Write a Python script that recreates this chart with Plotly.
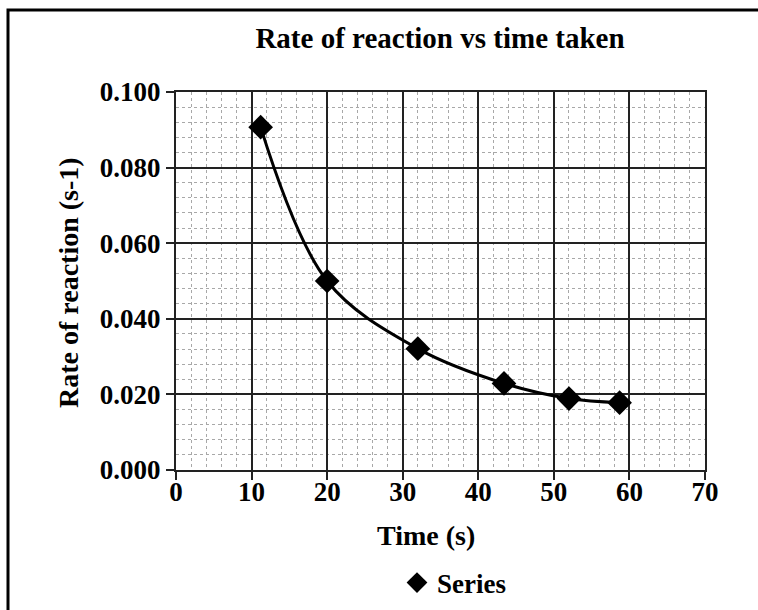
import plotly.graph_objects as go

# Measured reaction rates against time taken
time_s = [11.2, 20.0, 32.0, 43.4, 52.0, 58.7]
rate = [0.0907, 0.0500, 0.0321, 0.0229, 0.0189, 0.0178]

x_ticks = [0, 10, 20, 30, 40, 50, 60, 70]
y_ticks = [0.000, 0.020, 0.040, 0.060, 0.080, 0.100]

FONT = "Liberation Serif, Times New Roman, serif"

fig = go.Figure()

# smoothed connecting curve
fig.add_trace(go.Scatter(
    x=time_s, y=rate, mode="lines",
    line=dict(color="black", width=3, shape="spline", smoothing=1.0),
    showlegend=False, hoverinfo="skip",
))

# data markers
fig.add_trace(go.Scatter(
    x=time_s, y=rate, mode="markers", name="<b>Series</b>",
    marker=dict(symbol="diamond", size=19, color="black"),
))

W, H = 758, 610
ml, mr, mt, mb = 176, 53, 92, 140
pw, ph = W - ml - mr, H - mt - mb


def px_x(p):
    return (p - ml) / pw


def px_y(p):
    return (H - mb - p) / ph


fig.update_layout(
    width=W, height=H,
    margin=dict(l=ml, r=mr, t=mt, b=mb, autoexpand=False),
    paper_bgcolor="white", plot_bgcolor="white",
    font=dict(family=FONT, color="black", size=27),
    title=dict(
        text="<b>Rate of reaction vs time taken</b>",
        x=px_x(440), xanchor="center", xref="paper",
        y=1 - 38 / H, yanchor="middle",
        font=dict(size=29),
    ),
    showlegend=True,
    legend=dict(
        orientation="h", x=px_x(454), xanchor="center",
        y=px_y(583), yanchor="middle",
        font=dict(size=27), itemwidth=30,
    ),
    shapes=[dict(
        type="rect", xref="paper", yref="paper",
        x0=px_x(8), x1=px_x(820), y0=px_y(680), y1=px_y(10),
        line=dict(color="black", width=3), fillcolor="rgba(0,0,0,0)",
        layer="above",
    )],
    annotations=[
        dict(text="<b>Time (s)</b>", xref="paper", yref="paper",
             x=px_x(426), y=px_y(535), xanchor="center", yanchor="middle",
             showarrow=False, font=dict(size=28)),
        dict(text="<b>Rate of reaction (s-1)</b>", xref="paper", yref="paper",
             x=px_x(68), y=px_y(283), xanchor="center", yanchor="middle",
             textangle=-90, showarrow=False, font=dict(size=28)),
    ],
)

fig.update_xaxes(
    range=[0, 70], tickvals=x_ticks, ticktext=[f"<b>{v}</b>" for v in x_ticks],
    showgrid=True, gridcolor="#222222", gridwidth=2,
    showline=True, linecolor="#222222", linewidth=2, mirror=True,
    ticks="outside", ticklen=8, tickwidth=2, tickcolor="#222222",
    ticklabelstandoff=-11,
    zeroline=False,
    minor=dict(dtick=2, tick0=0, showgrid=True, gridcolor="#a8a8a8",
               griddash="dot", gridwidth=1),
    tickfont=dict(size=27),
)

fig.update_yaxes(
    range=[0, 0.1], tickvals=y_ticks,
    ticktext=[f"<b>{v:.3f}</b>" for v in y_ticks],
    showgrid=True, gridcolor="#222222", gridwidth=2,
    showline=True, linecolor="#222222", linewidth=2, mirror=True,
    ticks="outside", ticklen=8, tickwidth=2, tickcolor="#222222",
    ticklabelstandoff=0,
    zeroline=False,
    minor=dict(dtick=0.004, tick0=0, showgrid=True, gridcolor="#a8a8a8",
               griddash="dot", gridwidth=1),
    tickfont=dict(size=27),
)

fig.write_html("out.html")
